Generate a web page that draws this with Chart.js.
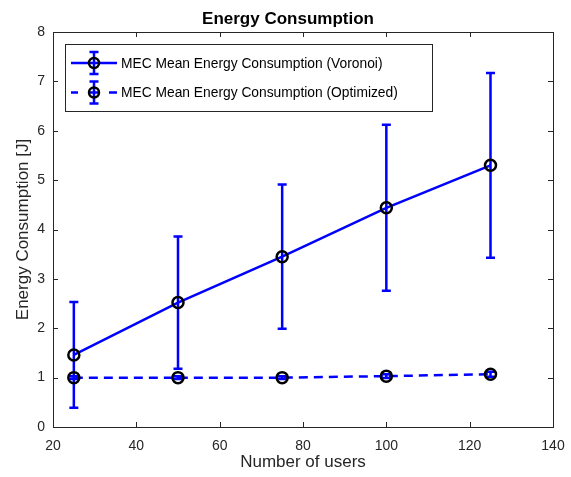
<!DOCTYPE html>
<html>
<head>
<meta charset="utf-8">
<script src="https://cdn.jsdelivr.net/npm/chart.js@4.4.1/dist/chart.umd.min.js"></script>
<style>
  html, body { margin: 0; padding: 0; background: #fff; }
  #wrap { width: 571px; height: 477px; }
</style>
</head>
<body>
<div id="wrap"><canvas id="chart" width="571" height="477"></canvas></div>
<script>
// data
const users = [25, 50, 75, 100, 125];
const voronoiMean = [1.46, 2.52, 3.45, 4.44, 5.30];
const voronoiErr = [1.07, 1.34, 1.46, 1.68, 1.87];
const optimizedMean = [1.00, 1.00, 1.00, 1.03, 1.07];
const optimizedErr = [0.03, 0.03, 0.03, 0.04, 0.05];
const xTicks = [20, 40, 60, 80, 100, 120, 140];
const yTicks = [0, 1, 2, 3, 4, 5, 6, 7, 8];
const seriesNames = ['MEC Mean Energy Consumption (Voronoi)', 'MEC Mean Energy Consumption (Optimized)'];

const FONT = "'Liberation Sans', Arial, Helvetica, sans-serif";
const AXIS = '#262626';
const BLUE = '#0000ff';

function toPoints(xs, ys) {
  return xs.map((x, i) => ({ x: x, y: ys[i] }));
}

// vertical error bars with caps
const errorBars = {
  id: 'errorBars',
  beforeDatasetsDraw(chart) {
    const ctx = chart.ctx;
    const xs = chart.scales.x, ys = chart.scales.y;
    chart.data.datasets.forEach(ds => {
      ctx.save();
      ctx.strokeStyle = BLUE;
      ctx.lineWidth = 2.5;
      ctx.setLineDash([]);
      ds.data.forEach((p, i) => {
        const e = ds.errors[i];
        const px = xs.getPixelForValue(p.x);
        const top = ys.getPixelForValue(p.y + e);
        const bot = ys.getPixelForValue(p.y - e);
        ctx.beginPath();
        ctx.moveTo(px, top); ctx.lineTo(px, bot);
        ctx.moveTo(px - 4.5, top); ctx.lineTo(px + 4.5, top);
        ctx.moveTo(px - 4.5, bot); ctx.lineTo(px + 4.5, bot);
        ctx.stroke();
      });
      ctx.restore();
    });
  }
};

// matlab style box, inward ticks, title and legend
const frame = {
  id: 'frame',
  afterDraw(chart) {
    const ctx = chart.ctx;
    const a = chart.chartArea;
    const xs = chart.scales.x, ys = chart.scales.y;
    ctx.save();
    ctx.strokeStyle = AXIS;
    ctx.lineWidth = 1;
    ctx.strokeRect(Math.round(a.left) + 0.5, Math.round(a.top) + 0.5,
      Math.round(a.right - a.left), Math.round(a.bottom - a.top));
    ctx.beginPath();
    xTicks.forEach(v => {
      const px = Math.round(xs.getPixelForValue(v)) + 0.5;
      ctx.moveTo(px, a.bottom); ctx.lineTo(px, a.bottom - 5);
      ctx.moveTo(px, a.top); ctx.lineTo(px, a.top + 5);
    });
    yTicks.forEach(v => {
      const py = Math.round(ys.getPixelForValue(v)) + 0.5;
      ctx.moveTo(a.left, py); ctx.lineTo(a.left + 5, py);
      ctx.moveTo(a.right, py); ctx.lineTo(a.right - 5, py);
    });
    ctx.stroke();

    // title
    ctx.fillStyle = '#000';
    ctx.font = 'bold 17px ' + FONT;
    ctx.textAlign = 'center';
    ctx.textBaseline = 'alphabetic';
    ctx.fillText('Energy Consumption', 288, 24);

    // legend
    const lx = 65.5, ly = 44.5, lw = 367, lh = 67;
    ctx.fillStyle = '#fff';
    ctx.fillRect(lx, ly, lw, lh);
    ctx.strokeStyle = AXIS;
    ctx.lineWidth = 1;
    ctx.strokeRect(lx, ly, lw, lh);
    const rows = [63, 92.5];
    rows.forEach((ry, i) => {
      ctx.strokeStyle = BLUE;
      ctx.lineWidth = 2.5;
      ctx.beginPath();
      if (i === 0) {
        ctx.moveTo(71, ry); ctx.lineTo(117, ry);
      } else {
        ctx.moveTo(71, ry); ctx.lineTo(78, ry);
        ctx.moveTo(89, ry); ctx.lineTo(99, ry);
        ctx.moveTo(109, ry); ctx.lineTo(117, ry);
      }
      ctx.moveTo(94, ry - 11); ctx.lineTo(94, ry + 11);
      ctx.moveTo(89.5, ry - 11); ctx.lineTo(98.5, ry - 11);
      ctx.moveTo(89.5, ry + 11); ctx.lineTo(98.5, ry + 11);
      ctx.stroke();
      ctx.strokeStyle = '#000';
      ctx.lineWidth = 2.5;
      ctx.beginPath();
      ctx.arc(94, ry, 5, 0, Math.PI * 2);
      ctx.stroke();
      ctx.fillStyle = '#000';
      ctx.font = '13.8px ' + FONT;
      ctx.textAlign = 'left';
      ctx.textBaseline = 'middle';
      ctx.fillText(seriesNames[i], 121, ry + 1);
    });
    ctx.restore();
  }
};

const ctx = document.getElementById('chart').getContext('2d');
new Chart(ctx, {
  type: 'line',
  data: {
    datasets: [
      {
        label: seriesNames[0],
        data: toPoints(users, voronoiMean),
        errors: voronoiErr,
        borderColor: BLUE,
        borderWidth: 2.5,
        pointRadius: 5.5,
        pointBorderWidth: 2.5,
        pointBorderColor: '#000',
        pointBackgroundColor: 'rgba(0,0,0,0)',
        tension: 0,
        fill: false
      },
      {
        label: seriesNames[1],
        data: toPoints(users, optimizedMean),
        errors: optimizedErr,
        borderColor: BLUE,
        borderWidth: 2.5,
        borderDash: [9, 6],
        pointRadius: 5.5,
        pointBorderWidth: 2.5,
        pointBorderColor: '#000',
        pointBackgroundColor: 'rgba(0,0,0,0)',
        tension: 0,
        fill: false
      }
    ]
  },
  options: {
    responsive: false,
    animation: false,
    layout: { padding: { top: 32, right: 18, left: 0, bottom: 0 } },
    plugins: { legend: { display: false }, title: { display: false }, tooltip: { enabled: false } },
    scales: {
      x: {
        type: 'linear',
        min: 20, max: 140,
        afterBuildTicks: s => { s.ticks = xTicks.map(v => ({ value: v })); },
        afterFit: s => { s.height = 50; s.paddingLeft = 0; s.paddingRight = 0; },
        grid: { display: false, drawTicks: false },
        border: { display: false },
        ticks: { color: AXIS, padding: 11, maxRotation: 0, font: { family: FONT, size: 14 } },
        title: { display: true, text: 'Number of users', color: AXIS, padding: { top: 0, bottom: 4 }, font: { family: FONT, size: 17 } }
      },
      y: {
        type: 'linear',
        min: 0, max: 8,
        afterBuildTicks: s => { s.ticks = yTicks.map(v => ({ value: v })); },
        afterFit: s => { s.width = 53; s.paddingTop = 0; s.paddingBottom = 0; },
        grid: { display: false, drawTicks: false },
        border: { display: false },
        ticks: { color: AXIS, padding: 8, font: { family: FONT, size: 14 } },
        title: { display: true, text: 'Energy Consumption [J]', color: AXIS, padding: { top: 13, bottom: 0 }, font: { family: FONT, size: 17 } }
      }
    }
  },
  plugins: [errorBars, frame]
});
</script>
</body>
</html>
